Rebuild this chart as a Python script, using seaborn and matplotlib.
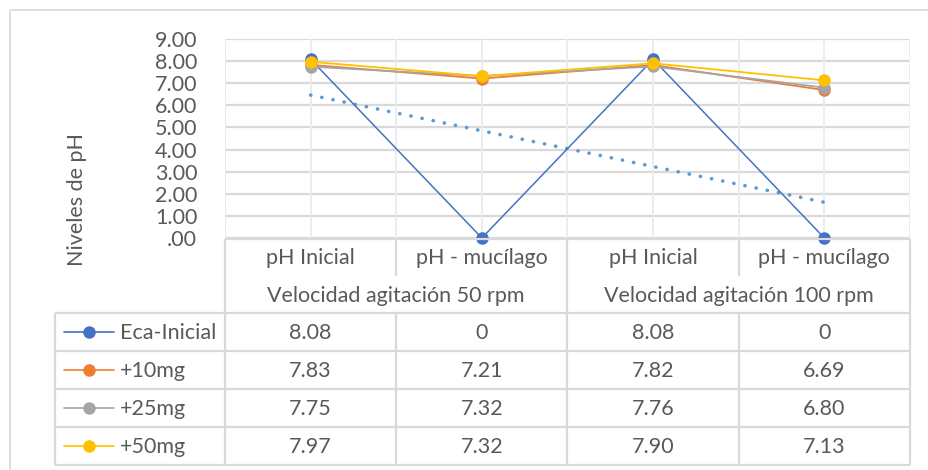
import numpy as np
import pandas as pd
import matplotlib
matplotlib.use("Agg")
import matplotlib.pyplot as plt
import seaborn as sns

categories = ["pH Inicial", "pH - mucílago", "pH Inicial", "pH - mucílago"]
groups = ["Velocidad agitación 50 rpm", "Velocidad agitación 100 rpm"]
series_names = ["Eca-Inicial", "+10mg", "+25mg", "+50mg"]
eca_inicial = [8.08, 0, 8.08, 0]
mg10 = [7.83, 7.21, 7.82, 6.69]
mg25 = [7.75, 7.32, 7.76, 6.80]
mg50 = [7.97, 7.32, 7.90, 7.13]
y_ticks = [0, 1, 2, 3, 4, 5, 6, 7, 8, 9]
y_label = "Niveles de pH"

colors = ["#4472C4", "#ED7D31", "#A5A5A5", "#FFC000"]
trend_color = "#5B9BD5"
grid_c = "#D9D9D9"
text_c = "#595959"
FS = 15.5

sns.set_theme(style="white")
plt.rcParams["font.family"] = ["Lato", "DejaVu Sans"]

W, H = 929, 470
fig = plt.figure(figsize=(W / 100, H / 100), dpi=100)

# pixel layout
pl, pr, pt, pb = 225, 910, 39, 238
ax = fig.add_axes([pl / W, 1 - pb / H, (pr - pl) / W, (pb - pt) / H])

values = [eca_inicial, mg10, mg25, mg50]
rows = []
for name, vals in zip(series_names, values):
    for i, v in enumerate(vals):
        rows.append({"x": i, "y": v, "serie": name})
df = pd.DataFrame(rows)

for name, col in zip(series_names, colors):
    sub = df[df.serie == name]
    sns.lineplot(data=sub, x="x", y="y", ax=ax, color=col,
                 lw=1.3 if name != "Eca-Inicial" else 1.1,
                 marker="o", markersize=9, markeredgewidth=0,
                 zorder=3, legend=False, clip_on=False)

# linear trendline of Eca-Inicial (as Excel)
xs = np.arange(len(eca_inicial))
coef = np.polyfit(xs + 1, eca_inicial, 1)
trend_y = np.polyval(coef, xs + 1)
ax.plot(xs, trend_y, color=trend_color, lw=2.6,
        linestyle=(0, (0.05, 3.1)), dash_capstyle="round", zorder=2)

ax.set_xlim(-0.5, len(categories) - 0.5)
ax.set_ylim(0, 9)
ax.set_yticks(y_ticks)
ax.set_yticklabels([".00" if t == 0 else f"{t:.2f}" for t in y_ticks],
                   fontsize=FS, color=text_c)
ax.tick_params(axis="y", length=0, pad=20)
ax.set_xticks([])
ax.set_xlabel("")
ax.set_ylabel("")
for t in y_ticks:
    ax.axhline(t, color=grid_c, lw=1.6, zorder=1)
for b in np.arange(-0.5, len(categories), 0.5):
    ax.axvline(b, color="#EBEBEB", lw=1.3, zorder=1)
for s in ax.spines.values():
    s.set_visible(False)

fig.text(77 / W, 1 - 200 / H, y_label, rotation=90, ha="center", va="center",
         fontsize=FS, color=text_c)

# overlay for data table in pixel coords
ov = fig.add_axes([0, 0, 1, 1], facecolor="none")
ov.set_xlim(0, W)
ov.set_ylim(H, 0)
ov.axis("off")

def L(x0, y0, x1, y1, c=grid_c, lw=1.6):
    ov.plot([x0, x1], [y0, y1], color=c, lw=lw, solid_capstyle="butt")

# outer chart border
L(10, 10, W, 10, c="#D9D9D9", lw=1.2)
L(10, 10, 10, H, c="#D9D9D9", lw=1.2)

ncat = len(categories)
colw = (pr - pl) / ncat
t_top, cat_bot, grp_bot = 239, 276, 313
row_h = 38
tb_left = 55
n_s = len(series_names)
tab_bot = grp_bot + row_h * n_s

# header
L(pl, t_top, pr, t_top)
for i in range(1, ncat):
    xb = pl + i * colw
    if i == ncat // 2:
        L(xb, t_top, xb, tab_bot)
    else:
        L(xb, t_top, xb, cat_bot)
        L(xb, grp_bot, xb, tab_bot)
L(pl, t_top, pl, tab_bot)
L(pr, t_top, pr, tab_bot)
for i, c in enumerate(categories):
    ov.text(pl + (i + 0.5) * colw, (t_top + cat_bot) / 2 + 1, c, ha="center",
            va="center", fontsize=FS, color=text_c)
gw = (pr - pl) / len(groups)
for g, name in enumerate(groups):
    ov.text(pl + (g + 0.5) * gw, (cat_bot + grp_bot) / 2 + 1, name, ha="center",
            va="center", fontsize=FS, color=text_c)

# series rows
for r in range(n_s + 1):
    y = grp_bot + r * row_h
    L(tb_left, y, pr, y)
L(tb_left, grp_bot, tb_left, tab_bot)
for r, (name, vals, col) in enumerate(zip(series_names, values, colors)):
    yc = grp_bot + (r + 0.5) * row_h
    ov.plot([64, 114], [yc, yc], color=col, lw=1.2)
    ov.plot([89], [yc], marker="o", color=col, markersize=9, markeredgewidth=0)
    ov.text(120, yc + 1, name, ha="left", va="center", fontsize=FS, color=text_c)
    for i, v in enumerate(vals):
        s = "0" if v == 0 else f"{v:.2f}"
        ov.text(pl + (i + 0.5) * colw, yc + 1, s, ha="center", va="center",
                fontsize=FS, color=text_c)

fig.savefig("out.png", dpi=100, facecolor="white")
